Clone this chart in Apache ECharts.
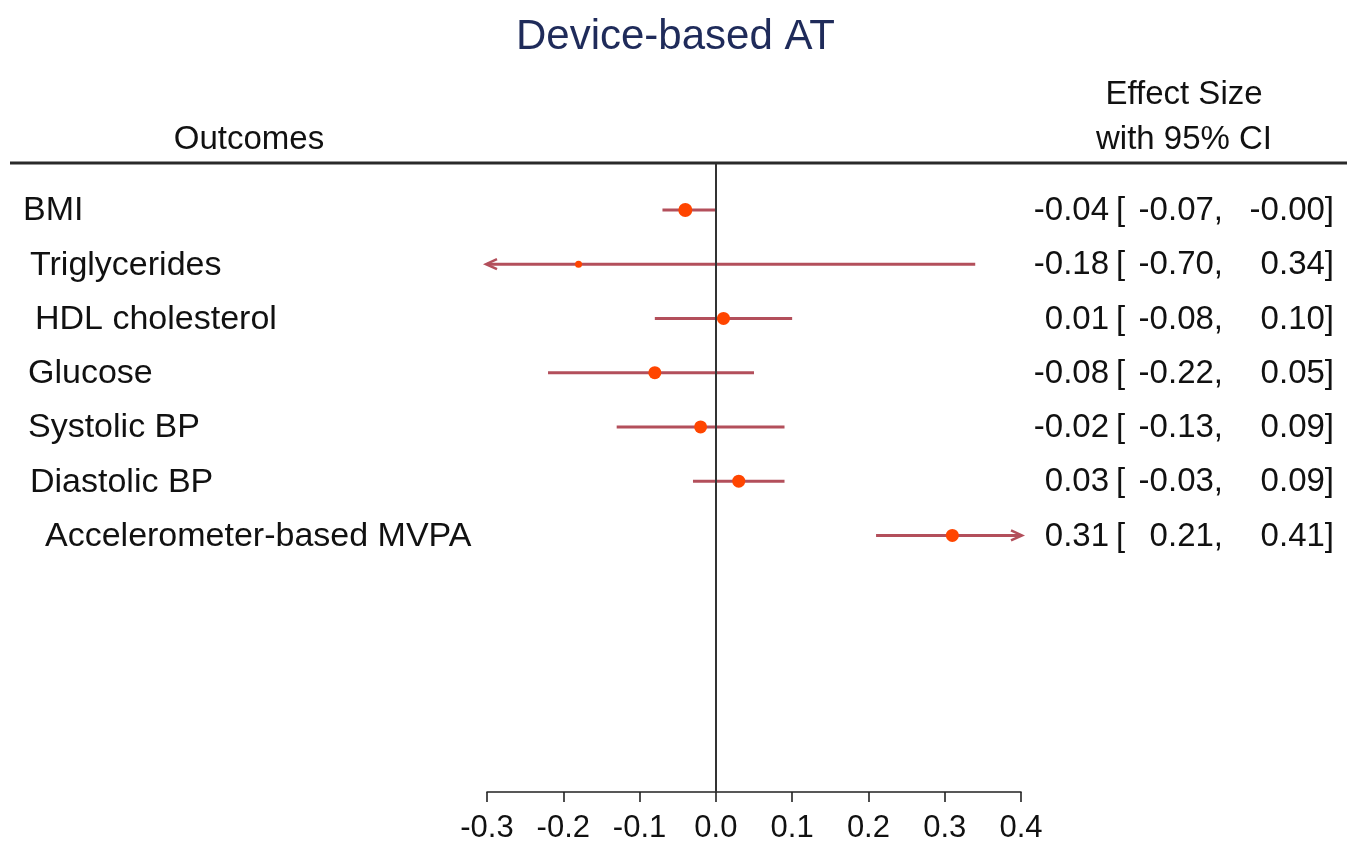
<!DOCTYPE html>
<html>
<head>
<meta charset="utf-8">
<script src="https://cdn.jsdelivr.net/npm/echarts@6/dist/echarts.min.js"></script>
<style>
html,body{margin:0;padding:0;background:#fff;}
#chart{width:1351px;height:844px;}
</style>
</head>
<body>
<div id="chart"></div>
<script>
// ---- data ----
var outcomes = ['BMI', 'Triglycerides', 'HDL cholesterol', 'Glucose', 'Systolic BP', 'Diastolic BP', 'Accelerometer-based MVPA'];
var estimate = [-0.04, -0.18, 0.01, -0.08, -0.02, 0.03, 0.31];
var lowerCI  = [-0.07, -0.70, -0.08, -0.22, -0.13, -0.03, 0.21];
var upperCI  = [-0.00, 0.34, 0.10, 0.05, 0.09, 0.09, 0.41];
var xTicks = [-0.3, -0.2, -0.1, 0.0, 0.1, 0.2, 0.3, 0.4];

// ---- style ----
var FONT = '"Liberation Sans", Arial, sans-serif';
var markerRadius = [7, 3.5, 6.5, 6.5, 6.5, 6.5, 6.5];
var labelIndent = [23, 30, 35, 28, 28, 30, 45];
var XMIN = -0.3, XMAX = 0.4;

function fmt(v) {
  var neg = v < 0 || Object.is(v, -0);
  return (neg ? '-' : '') + Math.abs(v).toFixed(2);
}

var rows = outcomes.map(function (name, i) {
  return [i + 1, estimate[i], lowerCI[i], upperCI[i], i];
});

var chart = echarts.init(document.getElementById('chart'));

var option = {
  animation: false,
  backgroundColor: '#ffffff',
  title: {
    text: 'Device-based AT',
    left: 'center',
    top: 11,
    textStyle: { fontFamily: FONT, fontSize: 42, fontWeight: 'normal', color: '#1f2b5a' }
  },
  grid: { left: 487, right: 330, top: 164, bottom: 51 },
  xAxis: {
    type: 'value',
    min: XMIN, max: XMAX, interval: 0.1,
    axisLine: { show: true, onZero: false, lineStyle: { color: '#222', width: 1.6 } },
    axisTick: { show: true, length: 10, lineStyle: { color: '#222', width: 1.6 } },
    axisLabel: {
      margin: 21,
      fontFamily: FONT, fontSize: 31, color: '#111',
      formatter: function (v) {
        var t = xTicks.reduce(function (a, b) { return Math.abs(b - v) < Math.abs(a - v) ? b : a; });
        return t.toFixed(1);
      }
    },
    splitLine: { show: false }
  },
  yAxis: {
    type: 'value', inverse: true, min: 0.153, max: 11.73,
    show: false, splitLine: { show: false }
  },
  graphic: [
    { type: 'line', shape: { x1: 10, y1: 163, x2: 1347, y2: 163 }, style: { stroke: '#2a2a2a', lineWidth: 3 } },
    { type: 'text', style: { x: 249, y: 140, text: 'Outcomes', align: 'center', verticalAlign: 'middle', font: '33px ' + FONT, fill: '#111' } },
    { type: 'text', style: { x: 1184, y: 95, text: 'Effect Size', align: 'center', verticalAlign: 'middle', font: '33px ' + FONT, fill: '#111' } },
    { type: 'text', style: { x: 1184, y: 140, text: 'with 95% CI', align: 'center', verticalAlign: 'middle', font: '33px ' + FONT, fill: '#111' } }
  ],
  series: [
    {
      type: 'line',
      data: [],
      markLine: {
        silent: true, symbol: 'none', label: { show: false },
        lineStyle: { color: '#333', width: 2, type: 'solid' },
        data: [{ xAxis: 0 }]
      }
    },
    {
      type: 'custom',
      clip: false,
      data: rows,
      encode: { x: 1, y: 0 },
      renderItem: function (params, api) {
        var yv = api.value(0), est = api.value(1), lo = api.value(2), hi = api.value(3);
        var i = api.value(4);
        var yPix = api.coord([0, yv])[1];
        var loC = Math.max(lo, XMIN), hiC = Math.min(hi, XMAX);
        var p1 = api.coord([loC, yv]), p2 = api.coord([hiC, yv]), pe = api.coord([est, yv]);
        var lineCol = '#b34f5b';
        var children = [
          { type: 'line', shape: { x1: p1[0], y1: yPix, x2: p2[0], y2: yPix }, style: { stroke: lineCol, lineWidth: 3 } }
        ];
        if (lo < XMIN) {
          children.push({ type: 'polyline', shape: { points: [[p1[0] + 10, yPix - 5], [p1[0] - 1, yPix], [p1[0] + 10, yPix + 5]] }, style: { stroke: lineCol, lineWidth: 2.5, fill: null } });
        }
        if (hi > XMAX) {
          children.push({ type: 'polyline', shape: { points: [[p2[0] - 10, yPix - 5], [p2[0] + 1, yPix], [p2[0] - 10, yPix + 5]] }, style: { stroke: lineCol, lineWidth: 2.5, fill: null } });
        }
        children.push({ type: 'circle', shape: { cx: pe[0], cy: yPix, r: markerRadius[i] }, style: { fill: '#ff4500' } });
        // left label
        children.push({ type: 'text', style: { x: labelIndent[i], y: yPix + 1, text: outcomes[i], align: 'left', verticalAlign: 'middle', font: '34px ' + FONT, fill: '#111' } });
        // right text columns
        children.push({ type: 'text', style: { x: 1109, y: yPix + 1, text: fmt(est), align: 'right', verticalAlign: 'middle', font: '33px ' + FONT, fill: '#111' } });
        children.push({ type: 'text', style: { x: 1116, y: yPix + 1, text: '[', align: 'left', verticalAlign: 'middle', font: '33px ' + FONT, fill: '#111' } });
        children.push({ type: 'text', style: { x: 1223, y: yPix + 1, text: fmt(lo) + ',', align: 'right', verticalAlign: 'middle', font: '33px ' + FONT, fill: '#111' } });
        children.push({ type: 'text', style: { x: 1334, y: yPix + 1, text: fmt(hi) + ']', align: 'right', verticalAlign: 'middle', font: '33px ' + FONT, fill: '#111' } });
        return { type: 'group', children: children };
      }
    }
  ]
};
chart.setOption(option);
</script>
</body>
</html>
